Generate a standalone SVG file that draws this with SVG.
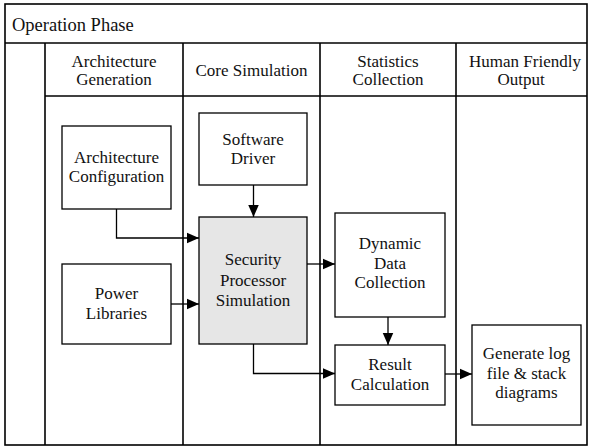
<svg xmlns="http://www.w3.org/2000/svg" width="589" height="446" viewBox="0 0 589 446">
  <style>
    .frame { fill: none; stroke: #000; stroke-width: 1.6; }
    .box { fill: #fff; stroke: #000; stroke-width: 1.3; }
    .core { fill: #e6e6e6; }
    .conn { fill: none; stroke: #000; stroke-width: 1.3; marker-end: url(#arrow); }
  </style>
  <defs>
    <marker id="arrow" markerUnits="userSpaceOnUse" markerWidth="13" markerHeight="12" viewBox="0 0 13 12" refX="12.5" refY="6" orient="auto">
      <path d="M0,0.5 L12.5,6 L0,11.5 z" fill="#000"/>
    </marker>
  </defs>
  <rect width="589" height="446" fill="#fff"/>

  <!-- swimlane frame -->
  <g id="frame">
    <rect class="frame" x="5" y="4" width="582" height="441"/>
    <line class="frame" x1="5" y1="43" x2="587" y2="43"/>
    <line class="frame" x1="45" y1="96" x2="587" y2="96"/>
    <line class="frame" x1="45" y1="43" x2="45" y2="445"/>
    <line class="frame" x1="183" y1="43" x2="183" y2="445"/>
    <line class="frame" x1="320" y1="43" x2="320" y2="445"/>
    <line class="frame" x1="456" y1="43" x2="456" y2="445"/>
  </g>
  <g id="lane-titles" fill="#111" text-anchor="middle">
    <text x="12" y="31" font-family="Liberation Serif" font-size="18.5" text-anchor="start">Operation Phase</text>
    <text x="114" y="67" font-family="Liberation Serif" font-size="17">Architecture</text>
    <text x="114" y="85" font-family="Liberation Serif" font-size="17">Generation</text>
    <text x="251.5" y="76" font-family="Liberation Serif" font-size="17">Core Simulation</text>
    <text x="388" y="67" font-family="Liberation Serif" font-size="17">Statistics</text>
    <text x="388" y="85" font-family="Liberation Serif" font-size="17">Collection</text>
    <text x="525" y="67" font-family="Liberation Serif" font-size="17">Human Friendly</text>
    <text x="521" y="85" font-family="Liberation Serif" font-size="17">Output</text>
  </g>

  <!-- connectors -->
  <g id="connectors">
    <path class="conn" d="M253.5,185 L253.5,217"/>
    <path class="conn" d="M116.5,209 L116.5,238 L199,238"/>
    <path class="conn" d="M171,304 L199,304"/>
    <path class="conn" d="M307,264 L335,264"/>
    <path class="conn" d="M253.5,344 L253.5,373.5 L335,373.5"/>
    <path class="conn" d="M388,317 L388,345"/>
    <path class="conn" d="M445,374 L472,374"/>
  </g>

  <g id="arch-config" fill="#111" text-anchor="middle">
    <rect class="box" x="62" y="126" width="109" height="83"/>
    <text x="116.5" y="163" font-family="Liberation Serif" font-size="17">Architecture</text>
    <text x="116.5" y="182" font-family="Liberation Serif" font-size="17">Configuration</text>
  </g>

  <g id="power-libraries" fill="#111" text-anchor="middle">
    <rect class="box" x="62" y="264" width="109" height="80"/>
    <text x="116.5" y="298.5" font-family="Liberation Serif" font-size="17">Power</text>
    <text x="116.5" y="319" font-family="Liberation Serif" font-size="17">Libraries</text>
  </g>

  <g id="software-driver" fill="#111" text-anchor="middle">
    <rect class="box" x="199" y="113" width="108" height="72"/>
    <text x="253" y="145" font-family="Liberation Serif" font-size="17">Software</text>
    <text x="253" y="164" font-family="Liberation Serif" font-size="17">Driver</text>
  </g>

  <g id="security-processor-simulation" fill="#111" text-anchor="middle">
    <rect class="box core" x="199" y="217" width="108" height="127"/>
    <text x="253" y="265" font-family="Liberation Serif" font-size="17">Security</text>
    <text x="253" y="285.5" font-family="Liberation Serif" font-size="17">Processor</text>
    <text x="253" y="306" font-family="Liberation Serif" font-size="17">Simulation</text>
  </g>

  <g id="dynamic-data-collection" fill="#111" text-anchor="middle">
    <rect class="box" x="335" y="213" width="110" height="104"/>
    <text x="390" y="249" font-family="Liberation Serif" font-size="17">Dynamic</text>
    <text x="390" y="268.5" font-family="Liberation Serif" font-size="17">Data</text>
    <text x="390" y="288" font-family="Liberation Serif" font-size="17">Collection</text>
  </g>

  <g id="result-calculation" fill="#111" text-anchor="middle">
    <rect class="box" x="335" y="345" width="110" height="60"/>
    <text x="390" y="370" font-family="Liberation Serif" font-size="17">Result</text>
    <text x="390" y="389.5" font-family="Liberation Serif" font-size="17">Calculation</text>
  </g>

  <g id="generate-output" fill="#111" text-anchor="middle">
    <rect class="box" x="472" y="325" width="109" height="100"/>
    <text x="526.5" y="359" font-family="Liberation Serif" font-size="17">Generate log</text>
    <text x="526.5" y="379" font-family="Liberation Serif" font-size="17">file &amp; stack</text>
    <text x="526.5" y="398" font-family="Liberation Serif" font-size="17">diagrams</text>
  </g>
</svg>
